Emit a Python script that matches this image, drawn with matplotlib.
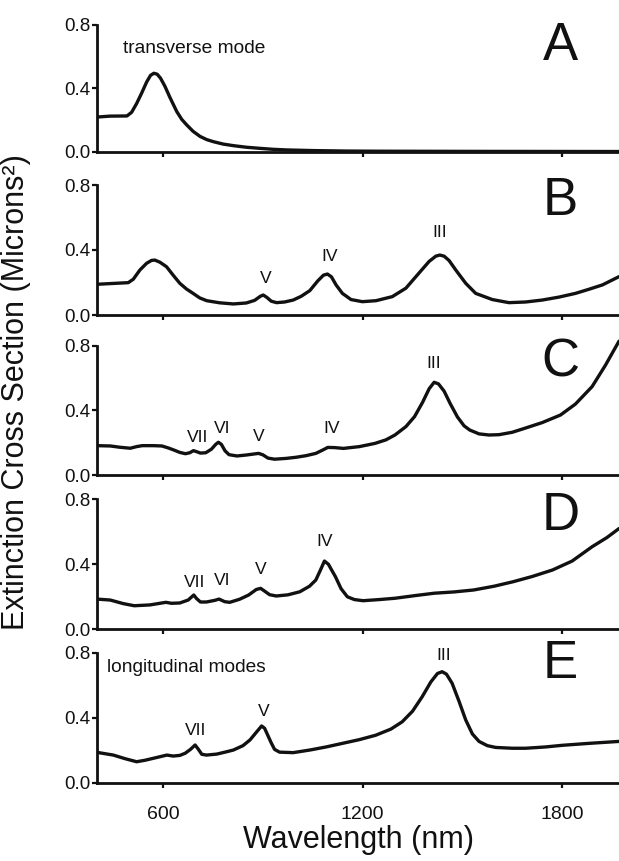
import matplotlib
matplotlib.use("Agg")
import matplotlib.pyplot as plt
from matplotlib import font_manager

# fonts: regular for axes, narrow for the small annotations if there is one
plt.rcParams['font.family'] = ['Liberation Sans', 'DejaVu Sans']
try:
    font_manager.findfont('Liberation Sans Narrow', fallback_to_default=False)
    NARROW = ['Liberation Sans Narrow', 'Liberation Sans']
    small_scale = 1.0
except Exception:
    NARROW = ['Liberation Sans']
    small_scale = 0.84

# data (wavelength in nm, extinction in microns^2)
wl_a = [400, 440, 491, 505, 520, 535, 550, 562, 572, 582, 592, 605, 620, 641, 656, 671, 690, 711, 731, 751, 780, 811, 850, 891, 930, 971, 1050, 1150, 1243, 1500, 1971]
ext_a = [0.22, 0.226, 0.227, 0.25, 0.305, 0.37, 0.44, 0.483, 0.496, 0.49, 0.465, 0.415, 0.345, 0.254, 0.205, 0.17, 0.13, 0.098, 0.078, 0.065, 0.05, 0.04, 0.03, 0.023, 0.017, 0.013, 0.009, 0.006, 0.005, 0.004, 0.003]

wl_b = [400, 495, 510, 530, 550, 565, 575, 590, 610, 630, 650, 670, 690, 710, 731, 770, 811, 850, 875, 892, 901, 912, 925, 941, 965, 991, 1015, 1041, 1065, 1082, 1094, 1106, 1120, 1139, 1165, 1199, 1240, 1289, 1330, 1369, 1400, 1420, 1432, 1445, 1460, 1480, 1510, 1540, 1590, 1640, 1690, 1740, 1790, 1840, 1880, 1921, 1971]
ext_b = [0.189, 0.199, 0.22, 0.277, 0.318, 0.336, 0.338, 0.325, 0.297, 0.245, 0.195, 0.16, 0.133, 0.105, 0.088, 0.075, 0.068, 0.074, 0.09, 0.115, 0.123, 0.108, 0.085, 0.076, 0.08, 0.092, 0.115, 0.15, 0.21, 0.245, 0.252, 0.235, 0.185, 0.133, 0.095, 0.082, 0.088, 0.113, 0.165, 0.257, 0.33, 0.362, 0.369, 0.362, 0.335, 0.277, 0.195, 0.133, 0.095, 0.076, 0.08, 0.092, 0.11, 0.133, 0.158, 0.185, 0.236]

wl_c = [400, 441, 470, 501, 520, 537, 570, 596, 615, 632, 650, 667, 680, 691, 700, 712, 728, 745, 758, 766, 775, 786, 798, 822, 850, 872, 887, 900, 915, 935, 970, 1000, 1030, 1059, 1080, 1095, 1115, 1142, 1190, 1237, 1270, 1297, 1330, 1356, 1380, 1400, 1415, 1428, 1445, 1463, 1485, 1505, 1522, 1550, 1580, 1610, 1650, 1688, 1740, 1795, 1840, 1890, 1930, 1971]
ext_c = [0.182, 0.18, 0.172, 0.166, 0.176, 0.182, 0.182, 0.18, 0.168, 0.155, 0.14, 0.132, 0.138, 0.151, 0.145, 0.136, 0.138, 0.16, 0.19, 0.203, 0.19, 0.15, 0.126, 0.118, 0.124, 0.13, 0.134, 0.125, 0.105, 0.098, 0.103, 0.11, 0.12, 0.134, 0.155, 0.171, 0.17, 0.165, 0.176, 0.196, 0.218, 0.248, 0.3, 0.362, 0.45, 0.535, 0.575, 0.565, 0.52, 0.444, 0.36, 0.305, 0.279, 0.255, 0.248, 0.25, 0.265, 0.29, 0.325, 0.372, 0.44, 0.548, 0.68, 0.83]

wl_d = [400, 441, 480, 513, 560, 608, 625, 650, 675, 686, 692, 700, 712, 730, 755, 768, 785, 800, 830, 857, 880, 893, 905, 920, 940, 975, 1011, 1040, 1059, 1072, 1085, 1097, 1108, 1118, 1135, 1154, 1175, 1201, 1250, 1297, 1360, 1415, 1475, 1534, 1595, 1653, 1710, 1771, 1830, 1890, 1935, 1971]
ext_d = [0.186, 0.18, 0.158, 0.145, 0.15, 0.166, 0.16, 0.162, 0.18, 0.2, 0.211, 0.19, 0.168, 0.168, 0.178, 0.186, 0.17, 0.166, 0.185, 0.211, 0.245, 0.252, 0.235, 0.213, 0.205, 0.212, 0.231, 0.265, 0.303, 0.36, 0.42, 0.4, 0.36, 0.324, 0.25, 0.2, 0.183, 0.176, 0.183, 0.191, 0.208, 0.222, 0.23, 0.242, 0.265, 0.293, 0.325, 0.365, 0.42, 0.508, 0.565, 0.62]

wl_e = [400, 450, 485, 520, 545, 570, 611, 630, 650, 666, 682, 696, 706, 716, 730, 761, 790, 811, 840, 861, 880, 896, 905, 915, 925, 935, 950, 991, 1041, 1090, 1139, 1190, 1239, 1285, 1319, 1350, 1379, 1405, 1425, 1439, 1452, 1469, 1490, 1510, 1530, 1550, 1575, 1600, 1650, 1690, 1750, 1800, 1880, 1971]
ext_e = [0.187, 0.17, 0.148, 0.129, 0.138, 0.15, 0.17, 0.164, 0.168, 0.181, 0.205, 0.232, 0.205, 0.175, 0.17, 0.176, 0.19, 0.201, 0.228, 0.263, 0.31, 0.349, 0.335, 0.29, 0.245, 0.205, 0.188, 0.185, 0.201, 0.22, 0.242, 0.265, 0.292, 0.33, 0.375, 0.44, 0.529, 0.62, 0.672, 0.683, 0.668, 0.612, 0.5, 0.386, 0.3, 0.254, 0.228, 0.217, 0.212, 0.212, 0.22, 0.23, 0.242, 0.254]

panel_letters = ['A', 'B', 'C', 'D', 'E']

# mode labels: (text, wavelength, height)
labels_b = [('V', 908, 0.226), ('IV', 1102, 0.363), ('III', 1432, 0.506)]
labels_c = [('VII', 703, 0.234), ('VI', 778, 0.29), ('V', 887, 0.238), ('IV', 1106, 0.29), ('III', 1415, 0.693)]
labels_d = [('VII', 694, 0.29), ('VI', 778, 0.303), ('V', 893, 0.365), ('IV', 1086, 0.539)]
labels_e = [('VII', 699, 0.324), ('V', 901, 0.441), ('III', 1443, 0.78)]

W, H = 619, 861
fig = plt.figure(figsize=(W / 100, H / 100), dpi=100)

# panel geometry in pixels: bottom of axis (y=0) and pixels per unit
bottoms = [152, 315, 475, 629.3, 782.7]
ppu = [158.75, 162.5, 161.25, 162.5, 162.5]
letter_y = [0.58, 0.615, 0.608, 0.611, 0.644]
ytop = 0.86
left_px = 96.7

series = [(wl_a, ext_a, []), (wl_b, ext_b, labels_b), (wl_c, ext_c, labels_c),
          (wl_d, ext_d, labels_d), (wl_e, ext_e, labels_e)]

axes = []
for i, (wl, ext, labs) in enumerate(series):
    b = 1 - bottoms[i] / H
    h = ytop * ppu[i] / H
    ax = fig.add_axes([left_px / W, b, 1 - left_px / W, h])
    ax.plot(wl, ext, color='#111111', lw=2.4, solid_joinstyle='round', solid_capstyle='round')
    ax.set_xlim(400, 1971)
    ax.set_ylim(0, ytop)
    for s in ['top', 'right']:
        ax.spines[s].set_visible(False)
    ax.spines['left'].set_bounds(0, 0.8)
    for s in ['left', 'bottom']:
        ax.spines[s].set_linewidth(2.0)
        ax.spines[s].set_color('#111111')
    ax.set_yticks([0.0, 0.4, 0.8])
    ax.set_yticklabels(['0.0', '0.4', '0.8'])
    ax.set_xticks([600, 1200, 1800])
    ax.tick_params(axis='y', direction='out', length=3.5, width=1.6, pad=1, labelsize=13.5, colors='#111111')
    ax.tick_params(axis='x', direction='out', length=3.5, width=1.6, pad=13, labelsize=14, colors='#111111')
    if i < 4:
        ax.set_xticklabels([])
    ax.text(1795, letter_y[i], panel_letters[i], fontsize=38, ha='center', va='baseline', color='#111111')
    for txt, x, y in labs:
        ax.text(x, y, txt, fontsize=15 * small_scale, ha='center', va='center', family=NARROW, color='#111111')
    axes.append(ax)

axes[0].text(479, 0.624, 'transverse mode', fontsize=16.4 * small_scale, ha='left', va='baseline', family=NARROW, color='#111111')
axes[4].text(431, 0.681, 'longitudinal modes', fontsize=16.4 * small_scale, ha='left', va='baseline', family=NARROW, color='#111111')

fig.text(16 / W, 1 - 392.5 / H, 'Extinction Cross Section (Microns²)', rotation=90,
         ha='center', va='center', fontsize=22, color='#111111')
fig.text(358.5 / W, 1 - 848 / H, 'Wavelength (nm)', ha='center', va='baseline', fontsize=22, color='#111111')

fig.savefig('out.png', dpi=100)
